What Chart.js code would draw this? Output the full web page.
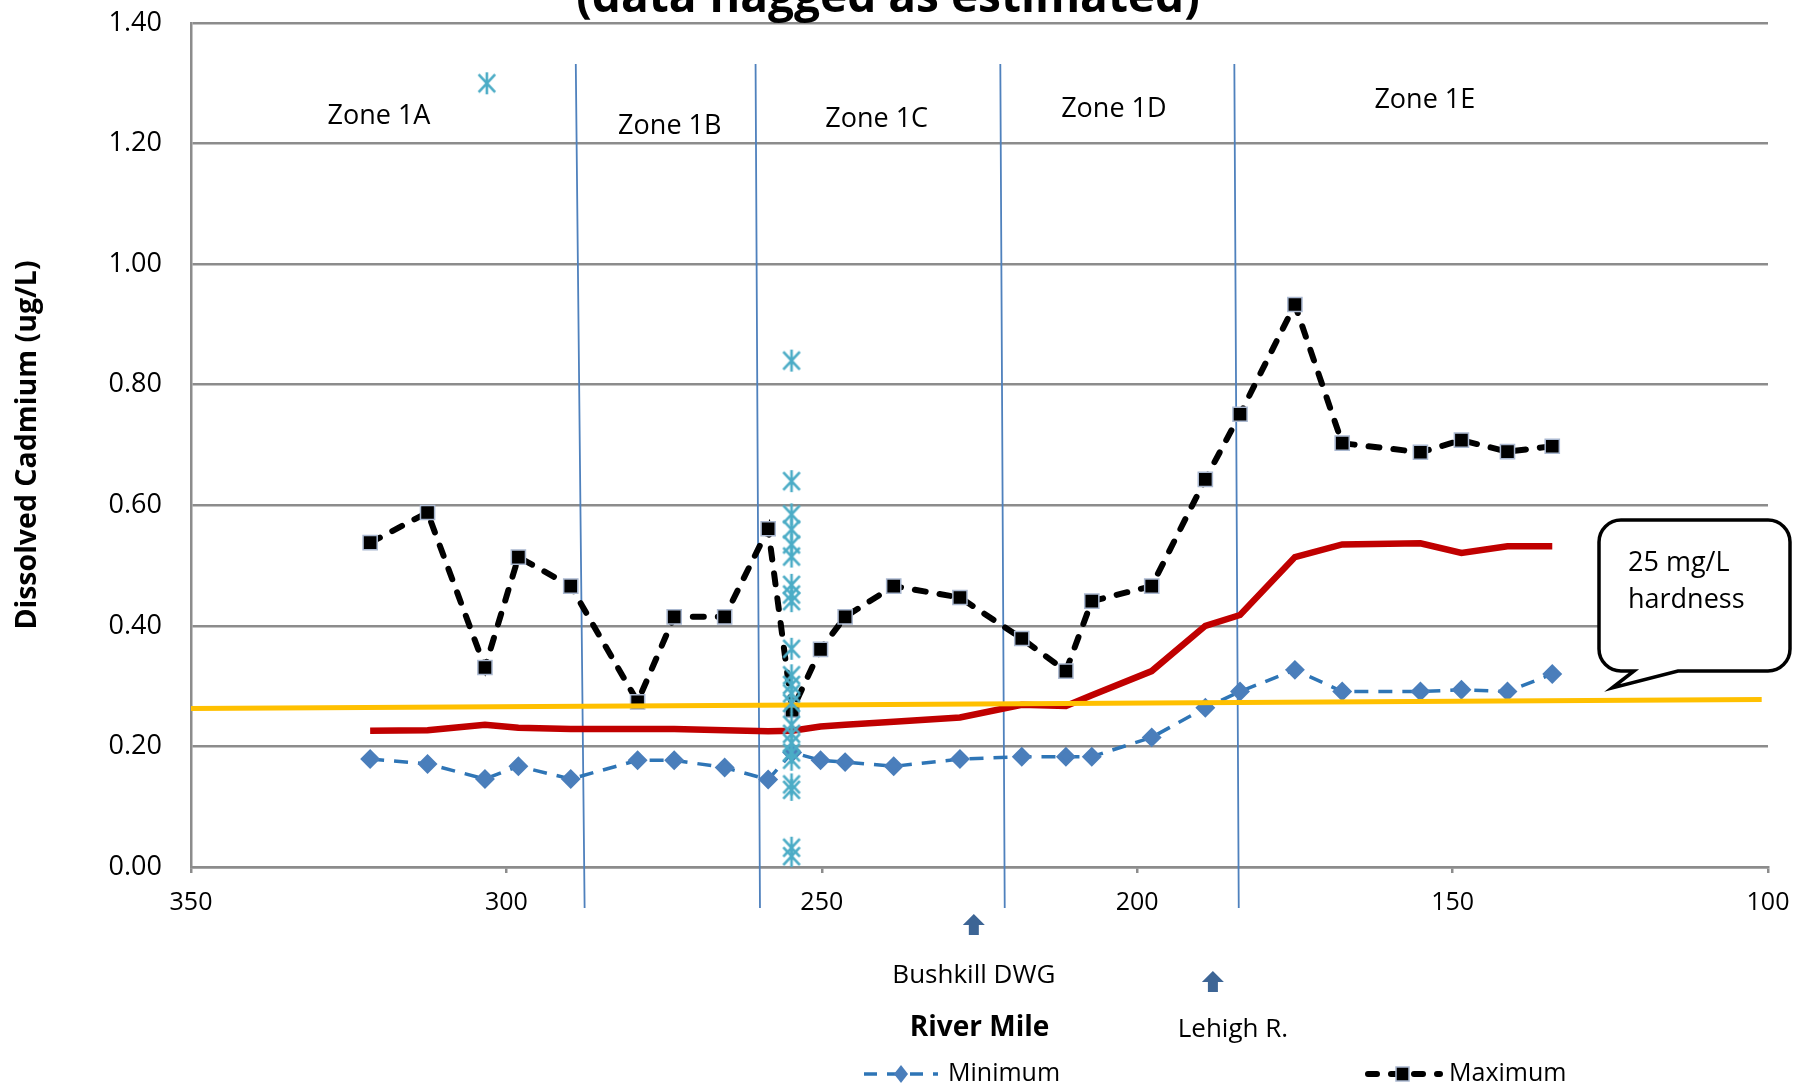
<!DOCTYPE html>
<html>
<head>
<meta charset="utf-8">
<script src="https://cdn.jsdelivr.net/npm/chart.js@4.4.0/dist/chart.umd.min.js"></script>
<style>
  body { margin: 0; background: #fff; }
  #wrap { width: 1799px; height: 1088px; position: relative; }
</style>
</head>
<body>
<div id="wrap"><canvas id="myChart"></canvas></div>
<script>
// river mile of each sampling station
var stationMiles = [321.6, 312.5, 303.4, 298.1, 289.8, 279.2, 273.4, 265.4, 258.5, 254.7, 250.2, 246.3, 238.6,
  228.1, 218.3, 211.3, 207.2, 197.7, 189.2, 183.7, 175.0, 167.5, 155.1, 148.6, 141.3, 134.2];
var minValues = [0.179, 0.171, 0.146, 0.167, 0.146, 0.177, 0.177, 0.165, 0.145, 0.190, 0.177, 0.174, 0.167,
  0.179, 0.183, 0.183, 0.183, 0.215, 0.264, 0.291, 0.327, 0.291, 0.291, 0.294, 0.291, 0.320];
var maxValues = [0.538, 0.588, 0.331, 0.514, 0.466, 0.274, 0.415, 0.415, 0.561, 0.260, 0.361, 0.415, 0.466,
  0.447, 0.379, 0.325, 0.441, 0.466, 0.643, 0.751, 0.933, 0.703, 0.688, 0.708, 0.689, 0.698];
// hardness based criterion (red)
var criterionValues = [0.226, 0.227, 0.236, 0.231, 0.229, 0.229, 0.229, 0.227, 0.225, 0.226, 0.233, 0.236, 0.241,
  0.248, 0.269, 0.267, 0.285, 0.325, 0.400, 0.418, 0.514, 0.535, 0.537, 0.521, 0.532, 0.532];
// criterion at 25 mg/L hardness (yellow)
var hardnessMiles = [350, 101];
var hardnessValues = [0.263, 0.278];
// data flagged as estimated
var estMiles = [303.1, 254.8, 254.8, 254.8, 254.8, 254.8, 254.8, 254.8, 254.8, 254.8, 254.8, 254.8, 254.8,
  254.8, 254.8, 254.8, 254.8, 254.8, 254.8, 254.8, 254.8, 254.8, 254.8, 254.8];
var estValues = [1.30, 0.84, 0.64, 0.585, 0.56, 0.535, 0.515, 0.468, 0.452, 0.441, 0.362, 0.318, 0.302,
  0.288, 0.272, 0.236, 0.221, 0.206, 0.19, 0.178, 0.137, 0.128, 0.032, 0.018];
// zone boundaries
var zoneTopMiles = [289.0, 260.5, 221.7, 184.6];
var zoneBottomMiles = [287.6, 259.8, 221.0, 183.9];
var zoneTop = 1.332;
var zoneBottom = -0.068;
var zoneNames = ["Zone 1A", "Zone 1B", "Zone 1C", "Zone 1D", "Zone 1E"];
var zoneLabelMiles = [320.2, 274.1, 241.3, 203.7, 154.4];
var zoneLabelValues = [1.245, 1.228, 1.240, 1.257, 1.272];
var landmarkNames = ["Bushkill DWG", "Lehigh R."];
var landmarkMiles = [225.9, 188.0];

var FONT = '"Open Sans", "Noto Sans", sans-serif';

function pts(xs, ys) {
  var out = [];
  for (var i = 0; i < xs.length; i++) out.push({ x: xs[i], y: ys[i] });
  return out;
}

var zonePts = [];
for (var i = 0; i < zoneTopMiles.length; i++) {
  zonePts.push({ x: zoneTopMiles[i], y: zoneTop });
  zonePts.push({ x: zoneBottomMiles[i], y: zoneBottom });
  zonePts.push({ x: zoneBottomMiles[i], y: null });
}

function makeAsterisk(size, color, lw) {
  var c = document.createElement("canvas");
  c.width = size; c.height = size;
  var g = c.getContext("2d");
  var m = size / 2, r = size / 2 - 1, d = r * 0.75;
  g.strokeStyle = color;
  g.lineWidth = lw;
  g.beginPath();
  g.moveTo(m, m - r); g.lineTo(m, m + r);
  g.moveTo(m - d, m - r * 0.8); g.lineTo(m + d, m + r * 0.8);
  g.moveTo(m - d, m + r * 0.8); g.lineTo(m + d, m - r * 0.8);
  g.stroke();
  return c;
}
var asterisk = makeAsterisk(24, "#4bacc6", 2.6);

function upArrow(ctx, cx, cy) {
  ctx.fillStyle = "#3d6595";
  ctx.beginPath();
  ctx.moveTo(cx, cy - 11);
  ctx.lineTo(cx + 11, cy);
  ctx.lineTo(cx + 5, cy);
  ctx.lineTo(cx + 5, cy + 10);
  ctx.lineTo(cx - 5, cy + 10);
  ctx.lineTo(cx - 5, cy);
  ctx.lineTo(cx - 11, cy);
  ctx.closePath();
  ctx.fill();
}

var extras = {
  id: "extras",
  afterDraw: function (chart) {
    var ctx = chart.ctx;
    var xs = chart.scales.x, ys = chart.scales.y;
    ctx.save();
    ctx.fillStyle = "#000";

    // title, cut off at the top edge
    ctx.font = "bold 46px " + FONT;
    ctx.textAlign = "center";
    ctx.textBaseline = "alphabetic";
    ctx.fillText("(data flagged as estimated)", 888, 12);

    // zone labels
    ctx.font = "27px " + FONT;
    ctx.textBaseline = "middle";
    for (var i = 0; i < zoneNames.length; i++) {
      ctx.fillText(zoneNames[i], xs.getPixelForValue(zoneLabelMiles[i]), ys.getPixelForValue(zoneLabelValues[i]));
    }

    // landmarks under the axis
    var bx = xs.getPixelForValue(landmarkMiles[0]);
    var lx = xs.getPixelForValue(landmarkMiles[1]);
    upArrow(ctx, bx, 925);
    upArrow(ctx, lx, 982);
    ctx.fillStyle = "#000";
    ctx.font = "26px " + FONT;
    ctx.fillText(landmarkNames[0], bx, 976);
    ctx.fillText(landmarkNames[1], lx + 20, 1030);

    // callout
    var x0 = 1599, y0 = 520, x1 = 1790, y1 = 671, r = 22;
    ctx.beginPath();
    ctx.moveTo(x0 + r, y0);
    ctx.arcTo(x1, y0, x1, y1, r);
    ctx.arcTo(x1, y1, x0, y1, r);
    ctx.lineTo(1678, y1);
    ctx.lineTo(1612, 688);
    ctx.lineTo(1634, y1);
    ctx.arcTo(x0, y1, x0, y0, r);
    ctx.arcTo(x0, y0, x1, y0, r);
    ctx.closePath();
    ctx.fillStyle = "#fff";
    ctx.fill();
    ctx.lineWidth = 3.5;
    ctx.strokeStyle = "#000";
    ctx.stroke();
    ctx.fillStyle = "#000";
    ctx.textAlign = "left";
    ctx.textBaseline = "alphabetic";
    ctx.font = "27px " + FONT;
    ctx.fillText("25 mg/L", 1628, 571);
    ctx.fillText("hardness", 1628, 608);

    // legend
    var ly = 1074;
    ctx.lineWidth = 3.5;
    ctx.strokeStyle = "#2e75b6";
    ctx.setLineDash([13, 10]);
    ctx.beginPath(); ctx.moveTo(864, ly); ctx.lineTo(938, ly); ctx.stroke();
    ctx.setLineDash([]);
    ctx.fillStyle = "#4a7ebb";
    ctx.beginPath();
    ctx.moveTo(901, ly - 9); ctx.lineTo(908, ly); ctx.lineTo(901, ly + 9); ctx.lineTo(894, ly);
    ctx.closePath(); ctx.fill();

    ctx.lineWidth = 6;
    ctx.strokeStyle = "#000";
    ctx.lineCap = "round";
    ctx.setLineDash([9, 14]);
    ctx.beginPath(); ctx.moveTo(1368, ly); ctx.lineTo(1440, ly); ctx.stroke();
    ctx.setLineDash([]);
    ctx.fillStyle = "#000";
    ctx.fillRect(1396, ly - 7, 13, 14);
    ctx.strokeStyle = "#aab8d0";
    ctx.lineWidth = 1.5;
    ctx.strokeRect(1396, ly - 7, 13, 14);

    ctx.fillStyle = "#000";
    ctx.font = "25px " + FONT;
    ctx.textBaseline = "middle";
    ctx.fillText("Minimum", 948, ly);
    ctx.fillText("Maximum", 1449, ly);
    ctx.restore();
  }
};

new Chart("myChart", {
  type: "scatter",
  data: {
    datasets: [
      {
        label: "Zone boundary",
        data: zonePts,
        showLine: true,
        spanGaps: false,
        borderColor: "#4f81bd",
        borderWidth: 1.8,
        pointRadius: 0,
        clip: false,
        order: 10,
      },
      {
        label: "Criterion",
        data: pts(stationMiles, criterionValues),
        showLine: true,
        borderColor: "#c00000",
        borderWidth: 6.5,
        pointRadius: 0,
        order: 6,
      },
      {
        label: "Minimum",
        data: pts(stationMiles, minValues),
        showLine: true,
        borderColor: "#2e75b6",
        borderWidth: 3.5,
        borderDash: [14, 10],
        pointStyle: "rectRot",
        pointRadius: 7.5,
        pointBackgroundColor: "#4a7ebb",
        pointBorderColor: "#4a7ebb",
        order: 5,
      },
      {
        label: "Maximum",
        data: pts(stationMiles, maxValues),
        showLine: true,
        borderColor: "#000",
        borderWidth: 6,
        borderDash: [11, 14],
        borderCapStyle: "round",
        pointStyle: "rect",
        pointRadius: 10,
        pointBackgroundColor: "#000",
        pointBorderColor: "#aab8d0",
        pointBorderWidth: 1.5,
        order: 4,
      },
      {
        label: "25 mg/L hardness",
        data: pts(hardnessMiles, hardnessValues),
        showLine: true,
        borderColor: "#ffc000",
        borderWidth: 5,
        pointRadius: 0,
        order: 3,
      },
      {
        label: "Estimated",
        data: pts(estMiles, estValues),
        showLine: false,
        pointStyle: asterisk,
        order: 1,
      },
    ],
  },
  options: {
    responsive: true,
    maintainAspectRatio: false,
    animation: false,
    layout: { padding: { left: 0, right: 31, top: 23, bottom: 0 } },
    plugins: {
      legend: { display: false },
      tooltip: { enabled: false },
    },
    scales: {
      x: {
        type: "linear",
        reverse: true,
        min: 100,
        max: 350,
        afterFit: function (s) {
          s.height = 221;
          s.paddingLeft = 0;
          s.paddingRight = 0;
        },
        ticks: {
          stepSize: 50,
          padding: 15,
          maxRotation: 0,
          color: "#000",
          font: { family: FONT, size: 25 },
        },
        grid: { drawOnChartArea: false, drawTicks: true, tickLength: 6, color: "#8c8c8c", lineWidth: 2.5 },
        border: { color: "#8c8c8c", width: 2.5 },
        title: {
          display: true,
          text: "River Mile",
          color: "#000",
          font: { family: FONT, size: 28, weight: "bold" },
          padding: { top: 0, bottom: 43 },
        },
      },
      y: {
        min: 0,
        max: 1.4,
        afterFit: function (s) {
          s.width = 191;
          s.paddingTop = 0;
          s.paddingBottom = 0;
        },
        ticks: {
          stepSize: 0.2,
          padding: 29,
          color: "#000",
          font: { family: FONT, size: 27 },
          callback: function (v) { return v.toFixed(2); },
        },
        grid: { color: "#8c8c8c", lineWidth: 2.5, drawTicks: false },
        border: { color: "#8c8c8c", width: 2.5 },
        title: {
          display: true,
          text: "Dissolved Cadmium (ug/L)",
          color: "#000",
          font: { family: FONT, size: 28.5, weight: "bold" },
          padding: { top: 11, bottom: 0 },
        },
      },
    },
  },
  plugins: [extras],
});
</script>
</body>
</html>
